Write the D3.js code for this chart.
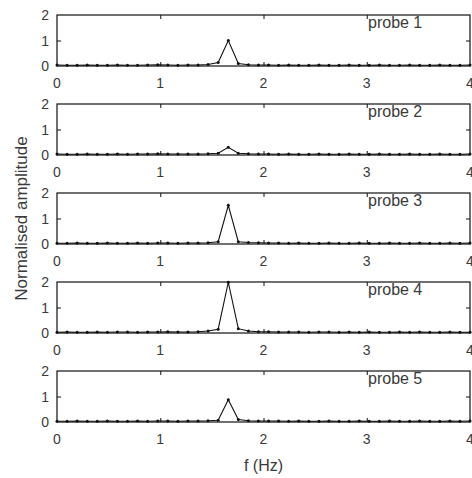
<!DOCTYPE html>
<html>
<head>
<meta charset="utf-8">
<script src="https://cdn.jsdelivr.net/npm/d3@7/dist/d3.min.js"></script>
<style>
  html, body { margin: 0; padding: 0; background: #fff; }
  svg { display: block; }
  text { font-family: "Liberation Sans", Arial, sans-serif; }
</style>
</head>
<body>
<svg id="chart" width="472" height="478"></svg>
<script>
// Spectral frequency bins (Hz)
const freq = [0, 0.098, 0.195, 0.293, 0.390, 0.488, 0.585, 0.683, 0.780, 0.878,
  0.976, 1.073, 1.171, 1.268, 1.366, 1.463, 1.561, 1.659, 1.756, 1.854,
  1.951, 2.049, 2.146, 2.244, 2.341, 2.439, 2.537, 2.634, 2.732, 2.829,
  2.927, 3.024, 3.122, 3.220, 3.317, 3.415, 3.512, 3.610, 3.707, 3.805,
  3.902, 4.000];

// Normalised amplitude spectra, one array per probe
const probe1 = [0.04, 0.03, 0.03, 0.04, 0.03, 0.03, 0.04, 0.03, 0.03, 0.04,
  0.05, 0.04, 0.03, 0.04, 0.04, 0.06, 0.14, 1.00, 0.10, 0.05,
  0.04, 0.04, 0.03, 0.04, 0.03, 0.03, 0.04, 0.03, 0.03, 0.04,
  0.03, 0.03, 0.04, 0.03, 0.03, 0.04, 0.03, 0.03, 0.04, 0.03,
  0.03, 0.04];
const probe2 = [0.04, 0.03, 0.03, 0.04, 0.03, 0.03, 0.04, 0.03, 0.04, 0.04,
  0.05, 0.04, 0.04, 0.04, 0.04, 0.05, 0.07, 0.30, 0.07, 0.05,
  0.04, 0.04, 0.03, 0.04, 0.03, 0.03, 0.04, 0.03, 0.03, 0.04,
  0.03, 0.03, 0.04, 0.03, 0.03, 0.04, 0.03, 0.03, 0.04, 0.03,
  0.03, 0.04];
const probe3 = [0.03, 0.03, 0.04, 0.03, 0.03, 0.04, 0.03, 0.03, 0.04, 0.03,
  0.04, 0.04, 0.03, 0.04, 0.04, 0.05, 0.09, 1.52, 0.09, 0.06,
  0.05, 0.04, 0.04, 0.03, 0.04, 0.03, 0.03, 0.04, 0.03, 0.03,
  0.04, 0.03, 0.03, 0.04, 0.03, 0.03, 0.04, 0.03, 0.03, 0.04,
  0.03, 0.04];
const probe4 = [0.03, 0.04, 0.03, 0.03, 0.04, 0.03, 0.04, 0.04, 0.03, 0.04,
  0.04, 0.05, 0.04, 0.04, 0.05, 0.08, 0.15, 1.99, 0.17, 0.08,
  0.05, 0.05, 0.04, 0.04, 0.04, 0.03, 0.04, 0.04, 0.03, 0.04,
  0.03, 0.04, 0.03, 0.03, 0.04, 0.03, 0.04, 0.03, 0.03, 0.04,
  0.03, 0.03];
const probe5 = [0.03, 0.03, 0.04, 0.03, 0.03, 0.04, 0.03, 0.03, 0.04, 0.03,
  0.04, 0.04, 0.03, 0.04, 0.04, 0.05, 0.07, 0.87, 0.10, 0.05,
  0.04, 0.04, 0.04, 0.03, 0.04, 0.03, 0.03, 0.04, 0.03, 0.03,
  0.04, 0.03, 0.03, 0.04, 0.03, 0.03, 0.04, 0.03, 0.03, 0.04,
  0.03, 0.04];

const series = [probe1, probe2, probe3, probe4, probe5];
const probeNames = ["probe 1", "probe 2", "probe 3", "probe 4", "probe 5"];
const xTicks = [0, 1, 2, 3, 4];
const yTicks = [0, 1, 2];
const xLabel = "f (Hz)";
const yLabel = "Normalised amplitude";

// Layout
const left = 57, right = 470;
const firstTop = 15, panelH = 51, step = 89;
const ink = "#111", labelInk = "#3a3a3a";

const svg = d3.select("#chart");
const x = d3.scaleLinear().domain([0, 4]).range([left, right]);

series.forEach((vals, i) => {
  const top = firstTop + i * step;
  const y = d3.scaleLinear().domain([0, 2]).range([top + panelH, top]);
  const g = svg.append("g");

  // data line and markers
  const pts = freq.map((f, k) => [f, vals[k]]);
  g.append("path")
    .attr("d", d3.line().x(d => x(d[0])).y(d => y(d[1]))(pts))
    .attr("fill", "none").attr("stroke", ink).attr("stroke-width", 1.1);
  g.selectAll("circle").data(pts).join("circle")
    .attr("cx", d => x(d[0])).attr("cy", d => y(d[1]))
    .attr("r", 1.5).attr("fill", ink);

  // inward ticks on all four sides (box style)
  const tickLen = 4;
  const inner = xTicks.filter(t => t > 0 && t < 4);
  g.append("g").call(d3.axisBottom(x).tickValues(inner).tickSize(-tickLen).tickFormat(""))
    .attr("transform", `translate(0,${top + panelH})`)
    .call(a => a.select(".domain").remove())
    .call(a => a.selectAll("line").attr("stroke", ink));
  g.append("g").call(d3.axisTop(x).tickValues(inner).tickSize(-tickLen).tickFormat(""))
    .attr("transform", `translate(0,${top})`)
    .call(a => a.select(".domain").remove())
    .call(a => a.selectAll("line").attr("stroke", ink));
  g.append("g").call(d3.axisLeft(y).tickValues([1]).tickSize(-tickLen).tickFormat(""))
    .attr("transform", `translate(${left},0)`)
    .call(a => a.select(".domain").remove())
    .call(a => a.selectAll("line").attr("stroke", ink));
  g.append("g").call(d3.axisRight(y).tickValues([1]).tickSize(-tickLen).tickFormat(""))
    .attr("transform", `translate(${right},0)`)
    .call(a => a.select(".domain").remove())
    .call(a => a.selectAll("line").attr("stroke", ink));

  // frame
  g.append("rect")
    .attr("x", left).attr("y", top)
    .attr("width", right - left).attr("height", panelH)
    .attr("fill", "none").attr("stroke", ink).attr("stroke-width", 1.2);

  // tick labels
  g.selectAll(".xt").data(xTicks).join("text")
    .attr("x", d => x(d)).attr("y", top + panelH + 22)
    .attr("text-anchor", "middle").attr("font-size", 14).attr("fill", labelInk)
    .text(d => d);
  g.selectAll(".yt").data(yTicks).join("text")
    .attr("x", left - 8).attr("y", d => y(d) + 5)
    .attr("text-anchor", "end").attr("font-size", 14).attr("fill", labelInk)
    .text(d => d);

  // probe name
  g.append("text")
    .attr("x", 368).attr("y", top + 13)
    .attr("font-size", 16).attr("fill", labelInk)
    .text(probeNames[i]);
});

// axis titles
svg.append("text")
  .attr("transform", `translate(27,${(firstTop + firstTop + 4 * step + panelH) / 2}) rotate(-90)`)
  .attr("text-anchor", "middle").attr("font-size", 17).attr("fill", labelInk)
  .text(yLabel);
svg.append("text")
  .attr("x", (left + right) / 2).attr("y", 471)
  .attr("text-anchor", "middle").attr("font-size", 16).attr("fill", labelInk)
  .text(xLabel);
</script>
</body>
</html>
